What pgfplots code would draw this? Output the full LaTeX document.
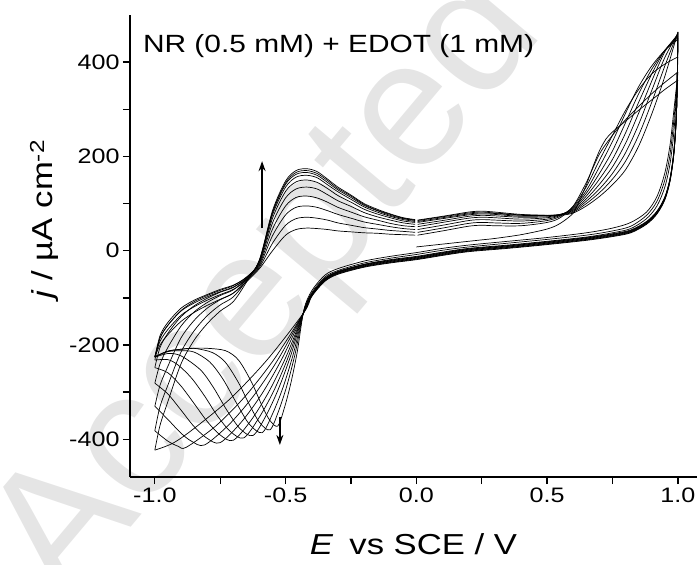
\documentclass[border=0pt]{standalone}
\usepackage{fontspec}
\setmainfont{Liberation Sans}[FakeStretch=1.2]
\newfontfamily\wmfont{Liberation Sans}
\usepackage{pgfplots}
\pgfplotsset{compat=1.18}
\usetikzlibrary{arrows.meta}
\begin{document}
\begin{tikzpicture}
\path[use as bounding box] (-130bp,-88bp) rectangle (567bp,477bp);
\node[rotate=50, text=black!10, font=\wmfont\fontsize{180}{180}\selectfont, inner sep=0] at (140bp,188bp) {Accepted};
\begin{axis}[
  at={(0,0)}, anchor=south west,
  scale only axis, width=567bp, height=462bp,
  xmin=-1.095, xmax=1.073, ymin=-480, ymax=500,
  axis lines*=left,
  axis line style={line width=1.6bp},
  every tick/.style={black, line width=1.3bp},
  tick align=outside,
  major tick length=7bp, minor tick length=7bp,
  xtick={-1,-0.5,0,0.5,1}, minor xtick={-0.75,-0.25,0.25,0.75},
  ytick={-400,-200,0,200,400}, minor ytick={-300,-100,100,300},
  xticklabel style={/pgf/number format/fixed, /pgf/number format/fixed zerofill, /pgf/number format/precision=1},
  /pgf/number format/assume math mode=true,
  tick label style={font=\fontsize{21}{25}\selectfont},
  xlabel={\textit{E}\hspace{16bp}vs SCE / V},
  ylabel={\textit{j} / µA cm\textsuperscript{-2}},
  label style={font=\fontsize{29}{34}\selectfont},
  xlabel style={at={(axis description cs:0.5,-0.1688)}, anchor=base},
  ylabel style={at={(axis description cs:-0.1358,0.558)}, anchor=base},
  clip=false,
  cv/.style={black, line width=0.7bp, smooth},
]
% ---------- cycle 1 ----------
\addplot[cv] coordinates {(0,8) (0.1,14) (0.2,20) (0.25,23) (0.3,26) (0.4,34) (0.5,46) (0.55,58) (0.6,80) (0.625,108) (0.65,140) (0.675,178) (0.7,212) (0.725,237) (0.75,252) (0.8,275) (0.85,298) (0.9,320) (0.95,342) (1.0,362)};
\addplot[cv] coordinates {(1.0,362) (0.995,350) (0.985,300) (0.97,225) (0.95,165) (0.92,115) (0.88,82) (0.82,60) (0.75,48) (0.65,38) (0.5,28) (0.35,20) (0.2,12) (0.1,5) (0,-4) (-0.1,-12) (-0.2,-22) (-0.3,-38) (-0.35,-52) (-0.4,-85) (-0.43,-125) (-0.455,-213) (-0.48,-281) (-0.505,-334) (-0.53,-372) (-0.56,-360) (-0.59,-329) (-0.63,-279) (-0.68,-232) (-0.73,-212) (-0.8,-207) (-0.85,-207) (-0.9,-209) (-0.95,-213) (-1.0,-225)};
\addplot[cv] coordinates {(-1.0,-225) (-0.98,-200) (-0.95,-178) (-0.9,-150) (-0.85,-131) (-0.8,-116) (-0.75,-103) (-0.7,-90) (-0.65,-66) (-0.6,-38) (-0.55,0) (-0.5,33) (-0.46,45) (-0.42,48) (-0.38,47) (-0.34,45) (-0.3,42) (-0.25,40) (-0.2,38) (-0.15,37) (-0.1,35) (-0.05,34) (-0.005,33)};
% ---------- cycle 2 ----------
\addplot[cv] coordinates {(0.005,33) (0.1,42) (0.2,52) (0.25,54) (0.3,53) (0.4,53) (0.5,60) (0.55,70) (0.6,95) (0.65,145) (0.7,205) (0.75,245) (0.8,278) (0.85,306) (0.9,333) (0.95,357) (1.0,379)};
\addplot[cv] coordinates {(1.0,379) (0.995,345) (0.985,280) (0.97,205) (0.95,150) (0.92,105) (0.88,75) (0.82,52) (0.75,42) (0.65,33) (0.5,24) (0.35,16) (0.2,8) (0.1,1) (0,-8) (-0.1,-16) (-0.2,-26) (-0.3,-42) (-0.35,-56) (-0.4,-89) (-0.43,-127) (-0.4625,-216) (-0.495,-286) (-0.5275,-341) (-0.56,-380) (-0.6,-364) (-0.64,-325) (-0.68,-280) (-0.73,-237) (-0.78,-216) (-0.85,-207) (-0.9,-209) (-0.95,-213) (-1.0,-225)};
\addplot[cv] coordinates {(-1.0,-225) (-0.98,-192) (-0.95,-167) (-0.9,-137) (-0.85,-119) (-0.8,-105) (-0.75,-93) (-0.7,-82) (-0.65,-63) (-0.6,-35) (-0.55,16) (-0.5,54) (-0.46,68) (-0.42,71) (-0.38,69) (-0.34,65) (-0.3,59) (-0.25,54) (-0.2,49) (-0.15,46) (-0.1,43) (-0.05,41) (-0.005,39)};
% ---------- cycle 3 ----------
\addplot[cv] coordinates {(0.005,39) (0.1,48) (0.2,58) (0.25,60) (0.3,59) (0.4,58) (0.5,64) (0.55,73) (0.6,94) (0.65,136) (0.7,192) (0.75,245) (0.8,298) (0.85,342) (0.9,375) (0.95,396) (1.0,411)};
\addplot[cv] coordinates {(1.0,411) (0.995,340) (0.985,255) (0.97,185) (0.95,135) (0.92,95) (0.88,68) (0.82,47) (0.75,38) (0.65,29) (0.5,20) (0.35,12) (0.2,5) (0.1,-3) (0,-12) (-0.1,-19) (-0.2,-29) (-0.3,-45) (-0.35,-59) (-0.4,-92) (-0.43,-128) (-0.47,-218) (-0.51,-290) (-0.55,-346) (-0.59,-386) (-0.64,-367) (-0.69,-321) (-0.74,-272) (-0.79,-236) (-0.85,-215) (-0.9,-212) (-0.95,-214) (-1.0,-225)};
\addplot[cv] coordinates {(-1.0,-225) (-0.98,-185) (-0.95,-158) (-0.9,-128) (-0.85,-111) (-0.8,-98) (-0.75,-87) (-0.7,-77) (-0.65,-60) (-0.6,-32) (-0.55,32) (-0.5,76) (-0.46,92) (-0.42,95) (-0.38,92) (-0.34,85) (-0.3,77) (-0.25,69) (-0.2,61) (-0.15,56) (-0.1,51) (-0.05,47) (-0.005,45)};
% ---------- cycle 4 ----------
\addplot[cv] coordinates {(0.005,45) (0.1,54) (0.2,64) (0.25,66) (0.3,65) (0.4,63) (0.5,67) (0.55,75) (0.6,92) (0.65,128) (0.7,178) (0.75,232) (0.8,292) (0.85,348) (0.9,392) (0.95,425) (1.0,448)};
\addplot[cv] coordinates {(1.0,448) (0.995,304) (0.985,214) (0.97,154) (0.95,114) (0.92,84) (0.88,62) (0.82,44) (0.75,36) (0.65,28) (0.5,19) (0.35,11) (0.2,4) (0.1,-4) (0,-13) (-0.1,-20) (-0.2,-29) (-0.3,-44) (-0.35,-59) (-0.4,-92) (-0.43,-129) (-0.479,-220) (-0.528,-294) (-0.576,-351) (-0.625,-392) (-0.675,-377) (-0.725,-338) (-0.775,-291) (-0.825,-253) (-0.9,-223) (-0.95,-218) (-1.0,-226)};
\addplot[cv] coordinates {(-1.0,-226) (-0.98,-180) (-0.95,-152) (-0.9,-122) (-0.85,-105) (-0.8,-93) (-0.75,-82) (-0.7,-73) (-0.65,-57) (-0.6,-29) (-0.55,46) (-0.5,95) (-0.46,113) (-0.42,116) (-0.38,112) (-0.34,103) (-0.3,92) (-0.25,82) (-0.2,72) (-0.15,65) (-0.1,58) (-0.05,53) (-0.005,51)};
% ---------- cycle 5 ----------
\addplot[cv] coordinates {(0.005,51) (0.1,60) (0.2,69) (0.25,71) (0.3,70) (0.4,67) (0.5,70) (0.55,76) (0.6,90) (0.65,122) (0.7,164) (0.75,212) (0.8,272) (0.85,333) (0.9,385) (0.95,425) (1.0,452)};
\addplot[cv] coordinates {(1.0,452) (0.995,303) (0.985,213) (0.97,153) (0.95,113) (0.92,83) (0.88,61) (0.82,43) (0.75,35) (0.65,27) (0.5,18) (0.35,10) (0.2,3) (0.1,-5) (0,-14) (-0.1,-21) (-0.2,-30) (-0.3,-45) (-0.35,-60) (-0.4,-93) (-0.43,-129) (-0.4875,-222) (-0.545,-297) (-0.6025,-355) (-0.66,-397) (-0.71,-384) (-0.76,-351) (-0.81,-308) (-0.86,-270) (-0.91,-243) (-0.95,-231) (-1.0,-232)};
\addplot[cv] coordinates {(-1.0,-232) (-0.98,-185) (-0.95,-158) (-0.9,-127) (-0.85,-108) (-0.8,-95) (-0.75,-84) (-0.7,-74) (-0.65,-56) (-0.6,-26) (-0.55,59) (-0.5,112) (-0.46,131) (-0.42,135) (-0.38,131) (-0.34,119) (-0.3,106) (-0.25,94) (-0.2,81) (-0.15,72) (-0.1,65) (-0.05,59) (-0.005,56)};
% ---------- cycle 6 ----------
\addplot[cv] coordinates {(0.005,56) (0.1,64) (0.2,73) (0.25,75) (0.3,74) (0.4,71) (0.5,72) (0.55,77) (0.6,88) (0.65,116) (0.7,152) (0.75,194) (0.8,250) (0.85,315) (0.9,375) (0.95,425) (1.0,456)};
\addplot[cv] coordinates {(1.0,456) (0.995,302) (0.985,212) (0.97,152) (0.95,112) (0.92,82) (0.88,60) (0.82,42) (0.75,34) (0.65,26) (0.5,17) (0.35,9) (0.2,2) (0.1,-6) (0,-15) (-0.1,-22) (-0.2,-31) (-0.3,-46) (-0.35,-61) (-0.4,-94) (-0.43,-130) (-0.4975,-224) (-0.565,-300) (-0.6325,-360) (-0.7,-402) (-0.75,-391) (-0.8,-362) (-0.85,-324) (-0.9,-287) (-0.95,-259) (-1.0,-248)};
\addplot[cv] coordinates {(-1.0,-248) (-0.98,-205) (-0.95,-175) (-0.9,-140) (-0.85,-117) (-0.8,-101) (-0.75,-88) (-0.7,-78) (-0.65,-57) (-0.6,-24) (-0.55,69) (-0.5,126) (-0.46,146) (-0.42,150) (-0.38,145) (-0.34,132) (-0.3,117) (-0.25,103) (-0.2,88) (-0.15,78) (-0.1,70) (-0.05,63) (-0.005,60)};
% ---------- cycle 7 ----------
\addplot[cv] coordinates {(0.005,60) (0.1,68) (0.2,76) (0.25,78) (0.3,77) (0.4,73) (0.5,74) (0.55,77) (0.6,86) (0.65,110) (0.7,141) (0.75,178) (0.8,228) (0.85,292) (0.9,360) (0.95,422) (1.0,459)};
\addplot[cv] coordinates {(1.0,459) (0.995,301) (0.985,211) (0.97,151) (0.95,111) (0.92,81) (0.88,59) (0.82,41) (0.75,33) (0.65,25) (0.5,16) (0.35,8) (0.2,1) (0.1,-7) (0,-16) (-0.1,-23) (-0.2,-32) (-0.3,-47) (-0.35,-62) (-0.4,-95) (-0.43,-130) (-0.51,-225) (-0.59,-303) (-0.67,-364) (-0.75,-407) (-0.8,-398) (-0.85,-373) (-0.9,-338) (-0.95,-304) (-1.0,-281)};
\addplot[cv] coordinates {(-1.0,-281) (-0.98,-240) (-0.95,-205) (-0.9,-160) (-0.85,-130) (-0.8,-110) (-0.75,-95) (-0.7,-83) (-0.65,-59) (-0.6,-22) (-0.55,76) (-0.5,135) (-0.46,156) (-0.42,160) (-0.38,155) (-0.34,140) (-0.3,125) (-0.25,109) (-0.2,93) (-0.15,82) (-0.1,73) (-0.05,66) (-0.005,62)};
% ---------- cycle 8 ----------
\addplot[cv] coordinates {(0.005,62) (0.1,70) (0.2,78) (0.25,80) (0.3,79) (0.4,75) (0.5,75) (0.55,77) (0.6,84) (0.65,105) (0.7,131) (0.75,164) (0.8,208) (0.85,268) (0.9,340) (0.95,410) (1.0,461)};
\addplot[cv] coordinates {(1.0,461) (0.995,300) (0.985,210) (0.97,150) (0.95,110) (0.92,80) (0.88,58) (0.82,40) (0.75,32) (0.65,24) (0.5,15) (0.35,7) (0.2,0) (0.1,-8) (0,-17) (-0.1,-24) (-0.2,-33) (-0.3,-48) (-0.35,-63) (-0.4,-95) (-0.43,-130) (-0.525,-227) (-0.62,-306) (-0.715,-368) (-0.81,-412) (-0.86,-404) (-0.9,-387) (-0.95,-358) (-1.0,-330)};
\addplot[cv] coordinates {(-1.0,-330) (-0.98,-285) (-0.95,-245) (-0.9,-185) (-0.85,-148) (-0.8,-122) (-0.75,-104) (-0.7,-90) (-0.65,-61) (-0.6,-21) (-0.55,80) (-0.5,141) (-0.46,162) (-0.42,166) (-0.38,160) (-0.34,145) (-0.3,129) (-0.25,113) (-0.2,96) (-0.15,85) (-0.1,75) (-0.05,68) (-0.005,64)};
% ---------- cycle 9 ----------
\addplot[cv] coordinates {(0.005,64) (0.1,72) (0.2,80) (0.25,82) (0.3,80) (0.4,76) (0.5,75) (0.55,76) (0.6,82) (0.65,100) (0.7,123) (0.75,152) (0.8,190) (0.85,245) (0.9,315) (0.95,392) (1.0,463)};
\addplot[cv] coordinates {(1.0,463) (0.995,299) (0.985,209) (0.97,149) (0.95,109) (0.92,79) (0.88,57) (0.82,39) (0.75,31) (0.65,23) (0.5,14) (0.35,6) (0.2,-1) (0.1,-9) (0,-18) (-0.1,-25) (-0.2,-34) (-0.3,-49) (-0.35,-64) (-0.4,-96) (-0.43,-131) (-0.5425,-229) (-0.655,-309) (-0.7675,-372) (-0.88,-417) (-0.91,-415) (-0.95,-404) (-1.0,-382)};
\addplot[cv] coordinates {(-1.0,-382) (-0.98,-330) (-0.95,-285) (-0.9,-215) (-0.85,-170) (-0.8,-138) (-0.75,-115) (-0.7,-98) (-0.65,-64) (-0.6,-20) (-0.55,82) (-0.5,144) (-0.46,166) (-0.42,170) (-0.38,164) (-0.34,149) (-0.3,132) (-0.25,116) (-0.2,98) (-0.15,86) (-0.1,77) (-0.05,69) (-0.005,65)};
% ---------- cycle 10 ----------
\addplot[cv] coordinates {(0.005,65) (0.1,73) (0.2,82) (0.25,84) (0.3,82) (0.4,77) (0.5,75) (0.55,75) (0.6,80) (0.65,95) (0.7,115) (0.75,140) (0.8,172) (0.85,222) (0.9,290) (0.95,370) (1.0,464)};
\addplot[cv] coordinates {(1.0,464) (0.995,298) (0.985,208) (0.97,148) (0.95,108) (0.92,78) (0.88,56) (0.82,38) (0.75,30) (0.65,22) (0.5,13) (0.35,5) (0.2,-2) (0.1,-10) (0,-19) (-0.1,-26) (-0.2,-35) (-0.3,-50) (-0.35,-65) (-0.4,-97) (-0.43,-131) (-0.57,-231) (-0.71,-313) (-0.85,-377) (-0.93,-408) (-1.0,-423)};
\addplot[cv] coordinates {(-1.0,-423) (-0.98,-370) (-0.95,-320) (-0.9,-240) (-0.85,-190) (-0.8,-155) (-0.75,-128) (-0.7,-108) (-0.65,-67) (-0.6,-19) (-0.55,85) (-0.5,148) (-0.46,170) (-0.42,174) (-0.38,168) (-0.34,152) (-0.3,135) (-0.25,118) (-0.2,100) (-0.15,88) (-0.1,78) (-0.05,70) (-0.005,66)};
% ---------- annotations ----------
\draw[line width=1.4bp, -{Stealth[length=10bp, width=7bp]}] (axis cs:-0.59,48) -- (axis cs:-0.59,190);
\draw[line width=1.4bp, -{Stealth[length=10bp, width=7bp]}] (axis cs:-0.522,-353) -- (axis cs:-0.522,-412);
\node[anchor=base west, inner sep=0, font=\fontsize{25}{30}\selectfont] at (axis cs:-1.046,420) {NR (0.5 mM) + EDOT (1 mM)};
\end{axis}
\end{tikzpicture}
\end{document}
